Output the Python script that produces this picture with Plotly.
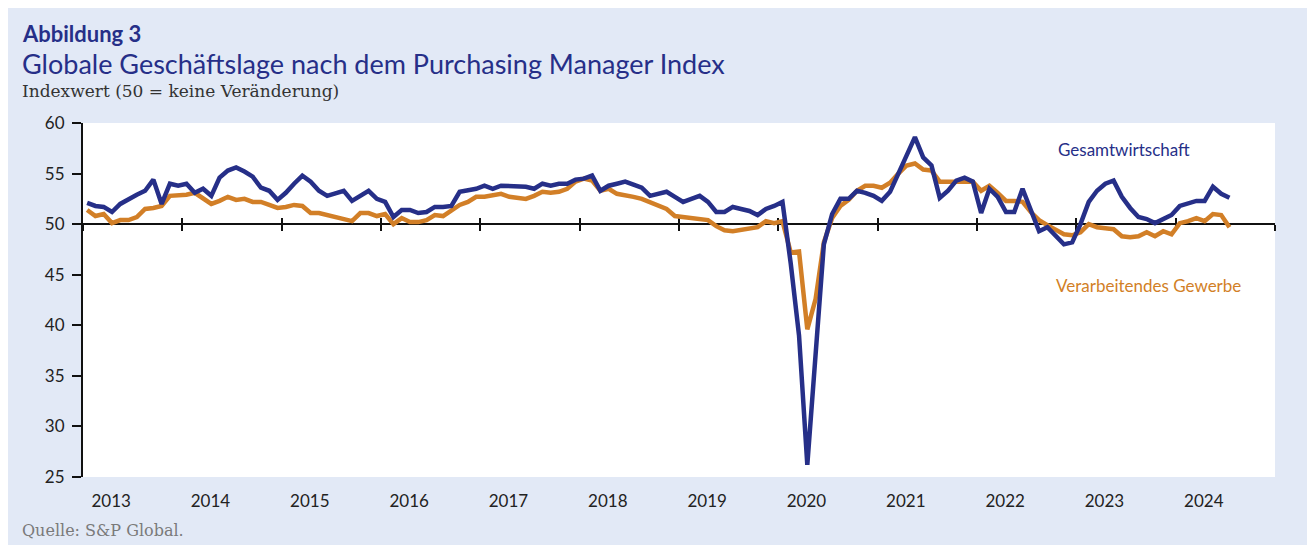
import plotly.graph_objects as go

# monthly values, Jan 2013 .. Jul 2024
years = [str(y) for y in range(2013, 2025)]

gesamt = [
    52.1, 51.8, 51.7, 51.2, 52.0, 52.5, 52.9, 53.3, 54.4, 52.0, 54.0, 53.8,  # 2013
    54.0, 53.1, 53.5, 52.8, 54.6, 55.3, 55.6, 55.2, 54.7, 53.6, 53.3, 52.4,  # 2014
    53.1, 54.0, 54.8, 54.2, 53.3, 52.8, 53.1, 53.3, 52.3, 52.8, 53.3, 52.5,  # 2015
    52.2, 50.7, 51.4, 51.4, 51.1, 51.2, 51.7, 51.7, 51.8, 53.2, 53.3, 53.5,  # 2016
    53.8, 53.5, 53.8, 53.8, 53.8, 53.7, 53.5, 54.0, 53.8, 54.0, 54.0, 54.4,  # 2017
    54.5, 54.8, 53.3, 53.8, 54.0, 54.2, 53.9, 53.6, 52.8, 53.0, 53.2, 52.7,  # 2018
    52.2, 52.5, 52.8, 52.2, 51.2, 51.2, 51.7, 51.5, 51.3, 50.9, 51.5, 51.8,  # 2019
    52.2, 46.1, 39.0, 26.2, 36.5, 48.0, 51.0, 52.5, 52.5, 53.3, 53.1, 52.8,  # 2020
    52.3, 53.2, 55.0, 56.8, 58.6, 56.6, 55.8, 52.6, 53.3, 54.3, 54.6, 54.2,  # 2021
    51.1, 53.5, 52.7, 51.2, 51.2, 53.5, 51.4, 49.3, 49.7, 48.9, 48.0, 48.2,  # 2022
    50.0, 52.2, 53.3, 54.0, 54.3, 52.7, 51.6, 50.7, 50.5, 50.1, 50.5, 50.9,  # 2023
    51.8, 52.1, 52.3, 52.3, 53.7, 53.0, 52.6,                                # 2024
]

verarbeitend = [
    51.4, 50.8, 51.0, 50.1, 50.4, 50.4, 50.7, 51.5, 51.6, 51.8, 52.8, 52.8,  # 2013
    52.9, 53.1, 52.6, 52.0, 52.3, 52.7, 52.4, 52.5, 52.2, 52.2, 51.9, 51.6,  # 2014
    51.7, 51.9, 51.8, 51.1, 51.1, 50.9, 50.7, 50.5, 50.3, 51.1, 51.1, 50.8,  # 2015
    51.0, 50.0, 50.6, 50.2, 50.2, 50.4, 50.9, 50.8, 51.3, 51.9, 52.2, 52.7,  # 2016
    52.7, 52.9, 53.0, 52.7, 52.6, 52.5, 52.8, 53.2, 53.1, 53.2, 53.5, 54.2,  # 2017
    54.5, 54.3, 53.3, 53.5, 53.0, 52.9, 52.7, 52.5, 52.2, 51.9, 51.5, 50.8,  # 2018
    50.7, 50.6, 50.5, 50.4, 49.8, 49.4, 49.3, 49.4, 49.6, 49.7, 50.3, 50.1,  # 2019
    50.3, 47.2, 47.3, 39.6, 42.6, 48.2, 50.6, 51.8, 52.4, 53.3, 53.8, 53.8,  # 2020
    53.6, 54.1, 55.0, 55.8, 56.0, 55.4, 55.3, 54.2, 54.2, 54.2, 54.3, 54.2,  # 2021
    53.3, 53.8, 53.1, 52.3, 52.3, 52.2, 51.2, 50.4, 49.9, 49.5, 49.0, 48.9,  # 2022
    49.2, 50.0, 49.7, 49.6, 49.5, 48.8, 48.7, 48.8, 49.2, 48.8, 49.3, 49.0,  # 2023
    50.1, 50.3, 50.6, 50.3, 51.0, 50.9, 49.7,                                # 2024
]

NAVY = "#262f88"
ORANGE = "#d27f27"
BG = "#e2e9f6"
SANS = "Lato"
SERIF = "DejaVu Serif"

# month centres on a month-index axis, years run 0..144
months = [i + 0.5 for i in range(len(gesamt))]

fig = go.Figure()
fig.add_trace(go.Scatter(x=months, y=verarbeitend, mode="lines", xaxis="x",
                         line=dict(color=ORANGE, width=4.5), hoverinfo="skip"))
fig.add_trace(go.Scatter(x=months, y=gesamt, mode="lines", xaxis="x2",
                         line=dict(color=NAVY, width=4.5), hoverinfo="skip"))
# invisible trace so that the third axis (upward ticks) gets drawn
fig.add_trace(go.Scatter(x=months, y=gesamt, mode="lines", xaxis="x3",
                         line=dict(width=0), opacity=0, hoverinfo="skip"))

year_ticks = [12 * k for k in range(13)]
label_pos = [12 * k + 3.4 for k in range(len(years))]
pos50 = (50 - 25) / (60 - 25)

# page body has an 8px margin, so the figure is a bit smaller than the window
W, H = 1299, 537
L, T = 75, 115
pw, ph = 1192, 354

fig.update_layout(
    width=W, height=H,
    margin=dict(l=L, r=W - L - pw, t=T, b=H - T - ph),
    paper_bgcolor=BG, plot_bgcolor="white",
    showlegend=False,
    font=dict(family=SANS, size=17, color="#222222"),
    xaxis=dict(range=[0, 144], tickvals=label_pos, ticktext=years, ticks="",
               showgrid=False, zeroline=False, showline=False,
               ticklabelstandoff=12, tickfont=dict(size=17, color="#222222")),
    xaxis2=dict(range=[0, 144], overlaying="x", anchor="free", position=pos50,
                tickvals=year_ticks, ticks="outside", ticklen=6, tickwidth=1.5,
                tickcolor="#111111", showticklabels=False, showgrid=False,
                zeroline=False, showline=True, linecolor="#111111", linewidth=1.5,
                layer="below traces"),
    xaxis3=dict(range=[0, 144], overlaying="x", anchor="free", position=pos50,
                tickvals=year_ticks, ticks="inside", ticklen=6, tickwidth=1.5,
                tickcolor="#111111", showticklabels=False, showgrid=False,
                zeroline=False, showline=False, layer="below traces"),
    yaxis=dict(range=[25, 60], tickvals=list(range(25, 61, 5)), ticks="outside",
               ticklen=9, tickwidth=2, tickcolor="#111111", showgrid=False,
               zeroline=False, showline=True, linecolor="#111111", linewidth=2,
               tickfont=dict(size=17, color="#222222"), ticklabelstandoff=4),
)


def px(x, y):
    # window pixel -> paper fraction (plot area spans 83..1275, 123..477)
    return (x - 83) / pw, (477 - y) / ph


notes = [
    ("<b>Abbildung 3</b>", 20, 33, 22, NAVY, SANS),
    ("Globale Geschäftslage nach dem Purchasing Manager Index", 20, 63, 27, NAVY, SANS),
    ("Indexwert (50 = keine Veränderung)", 20, 91, 17, "#333333", SERIF),
    ("Quelle: S&P Global.", 20, 530, 16, "#7a7a7a", SERIF),
]
for text, x, y, size, color, fam in notes:
    ax, ay = px(x, y)
    fig.add_annotation(text=text, x=ax, y=ay, xref="paper", yref="paper",
                       xanchor="left", yanchor="middle", showarrow=False,
                       font=dict(size=size, color=color, family=fam))

fig.add_annotation(text="Gesamtwirtschaft", x=125.7, y=57.4, xref="x", yref="y",
                   showarrow=False, font=dict(size=17, color=NAVY, family=SANS))
fig.add_annotation(text="Verarbeitendes Gewerbe", x=128.7, y=43.9, xref="x", yref="y",
                   showarrow=False, font=dict(size=17, color=ORANGE, family=SANS))

fig.write_html("out.html")
